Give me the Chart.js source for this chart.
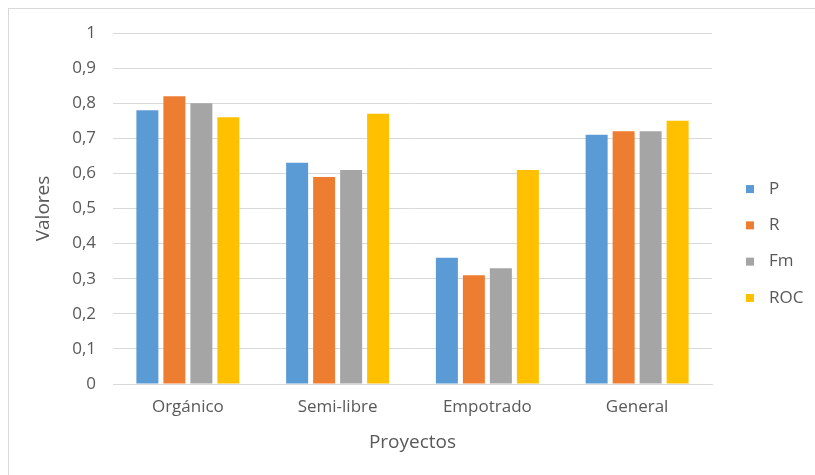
<!DOCTYPE html>
<html>
<head>
<meta charset="utf-8">
<script src="https://cdn.jsdelivr.net/npm/chart.js@4.4.1/dist/chart.umd.min.js"></script>
<style>
  html, body { margin: 0; padding: 0; background: #ffffff; }
  #wrap { position: relative; width: 815px; height: 475px; overflow: hidden; }
  #frame { position: absolute; left: 8px; top: 8px; width: 820px; height: 480px;
           border: 1px solid #d9d9d9; box-sizing: border-box; }
  canvas { position: absolute; left: 0; top: 0; }
</style>
</head>
<body>
<div id="wrap">
  <div id="frame"></div>
  <canvas id="chart" width="815" height="475"></canvas>
</div>
<script>
// Projects on the x axis, metric series as bars
const categories = ['Orgánico', 'Semi-libre', 'Empotrado', 'General'];
const seriesNames = ['P', 'R', 'Fm', 'ROC'];
const valuesP   = [0.78, 0.63, 0.36, 0.71];
const valuesR   = [0.82, 0.59, 0.31, 0.72];
const valuesFm  = [0.80, 0.61, 0.33, 0.72];
const valuesROC = [0.76, 0.77, 0.61, 0.75];
const yTickLabels = ['0', '0,1', '0,2', '0,3', '0,4', '0,5', '0,6', '0,7', '0,8', '0,9', '1'];
const seriesColors = ['#5B9BD5', '#ED7D31', '#A5A5A5', '#FFC000'];

const FONT = '"Open Sans", "Noto Sans", sans-serif';
const TEXT = '#595959';
const GRID = '#d9d9d9';

const seriesValues = [valuesP, valuesR, valuesFm, valuesROC];

// Legend drawn at the right, stacked vertically
const sideLegend = {
  id: 'sideLegend',
  afterDraw(chart) {
    const ctx = chart.ctx;
    const x0 = 746, yCenter = 243.5, step = 36.3;
    const n = chart.data.datasets.length;
    ctx.save();
    ctx.font = '17px ' + FONT;
    ctx.textBaseline = 'middle';
    ctx.textAlign = 'left';
    chart.data.datasets.forEach((ds, i) => {
      const y = yCenter + (i - (n - 1) / 2) * step;
      ctx.fillStyle = ds.backgroundColor;
      ctx.fillRect(x0, y - 4, 8, 8);
      ctx.fillStyle = TEXT;
      ctx.fillText(ds.label, x0 + 23, y);
    });
    ctx.restore();
  }
};

new Chart(document.getElementById('chart'), {
  type: 'bar',
  data: {
    labels: categories,
    datasets: seriesNames.map((name, i) => ({
      label: name,
      data: seriesValues[i],
      backgroundColor: seriesColors[i],
      borderWidth: 0,
      categoryPercentage: 0.721,
      barPercentage: 0.815
    }))
  },
  options: {
    responsive: false,
    animation: false,
    layout: { padding: { left: 30, right: 103, top: 33, bottom: 0 } },
    plugins: {
      legend: { display: false },
      tooltip: { enabled: false }
    },
    scales: {
      x: {
        grid: { display: false, drawTicks: false },
        border: { display: true, color: GRID, width: 1 },
        ticks: { color: TEXT, font: { family: FONT, size: 17 }, padding: 13, maxRotation: 0 },
        title: {
          display: true, text: 'Proyectos', color: TEXT,
          font: { family: FONT, size: 19 }, padding: { top: 4, bottom: 21 }
        },
        afterFit(scale) { scale.height = 91; }
      },
      y: {
        min: 0, max: 1,
        ticks: {
          stepSize: 0.1, color: TEXT, font: { family: FONT, size: 17 }, padding: 17,
          callback: (value, index) => yTickLabels[index]
        },
        grid: { color: GRID, lineWidth: 1, drawTicks: false },
        border: { display: false },
        title: {
          display: true, text: 'Valores', color: TEXT,
          font: { family: FONT, size: 19 }, padding: { top: 2, bottom: 4 }
        },
        afterFit(scale) { scale.width = 83; }
      }
    }
  },
  plugins: [sideLegend]
});
</script>
</body>
</html>
